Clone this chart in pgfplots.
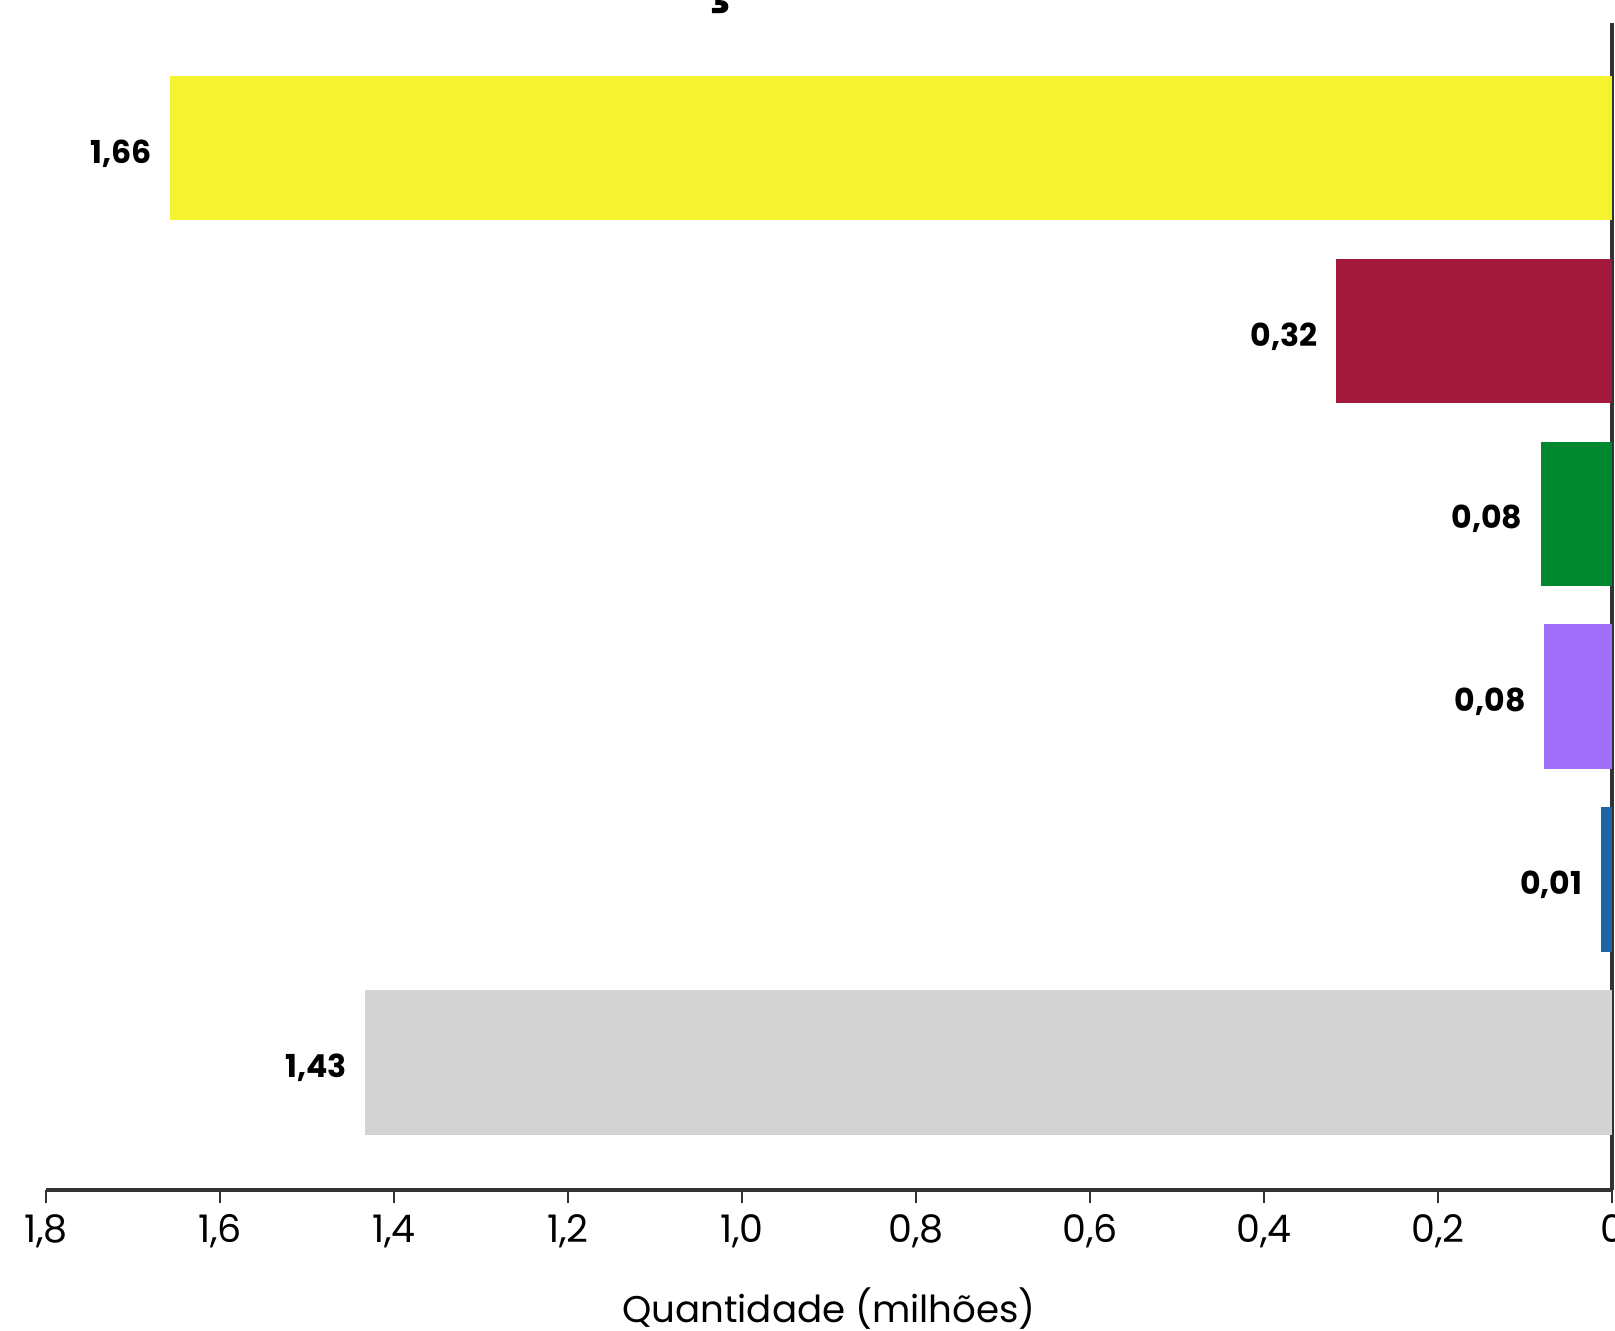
\documentclass[border=0pt]{standalone}
\usepackage{fontspec}
\setmainfont{Poppins}
\usepackage{pgfplots}
\pgfplotsset{compat=1.18}
\definecolor{cyel}{HTML}{F5F32F}
\definecolor{ccrim}{HTML}{A3193B}
\definecolor{cgreen}{HTML}{00882F}
\definecolor{cpurp}{HTML}{A070FA}
\definecolor{cblue}{HTML}{1F63A8}
\definecolor{cgray}{HTML}{D3D3D3}
\definecolor{caxis}{HTML}{333333}
\begin{document}
\begin{tikzpicture}
\begin{axis}[
  at={(0,0)}, anchor=south west,
  scale only axis,
  width=391.5pt, height=291.75pt,
  xbar, bar width=0.79, bar shift=0pt,
  xmin=0, xmax=1.8, x dir=reverse,
  ymin=-0.697, ymax=5.683,
  axis x line=bottom, axis y line=right,
  axis line style={-, color=caxis, line width=0.8pt},
  xtick={0,0.2,0.4,0.6,0.8,1.0,1.2,1.4,1.6,1.8},
  xticklabels={0,{0,2},{0,4},{0,6},{0,8},{1,0},{1,2},{1,4},{1,6},{1,8}},
  ytick=\empty,
  tick align=outside,
  major tick length=3.25pt,
  tick style={color=caxis, line width=0.65pt},
  xticklabel style={font=\fontsize{9.5}{11}\selectfont, anchor=north, inner sep=0pt, yshift=-2.7pt},
  xlabel={Quantidade (milhões)},
  xlabel style={at={(axis description cs:0.5,0)}, anchor=base, inner sep=0pt, yshift=-33pt, font=\fontsize{9.3}{11}\selectfont},
  /pgf/number format/assume math mode=true,
  nodes near coords={\pgfmathprintnumber[fixed,zerofill,precision=2,use comma]{\pgfplotspointmeta}},
  every node near coord/.append style={anchor=base east, inner sep=0pt, xshift=-4.4pt, yshift=-3.8pt, font=\bfseries\fontsize{7.9}{9}\selectfont, color=black},
  clip=false,
]
\addplot[fill=cyel, draw=none] coordinates {(1.657,5)};
\addplot[fill=ccrim, draw=none] coordinates {(0.317,4)};
\addplot[fill=cgreen, draw=none] coordinates {(0.082,3)};
\addplot[fill=cpurp, draw=none] coordinates {(0.078,2)};
\addplot[fill=cblue, draw=none] coordinates {(0.013,1)};
\addplot[fill=cgray, draw=none] coordinates {(1.433,0)};
\end{axis}
\node[font=\bfseries\fontsize{14}{16}\selectfont, anchor=base] at (168pt,297.75pt) {ç};
\pgfresetboundingbox
\path[use as bounding box] (-11.5pt,-35pt) rectangle (392.25pt,297.5pt);
\end{tikzpicture}
\end{document}
